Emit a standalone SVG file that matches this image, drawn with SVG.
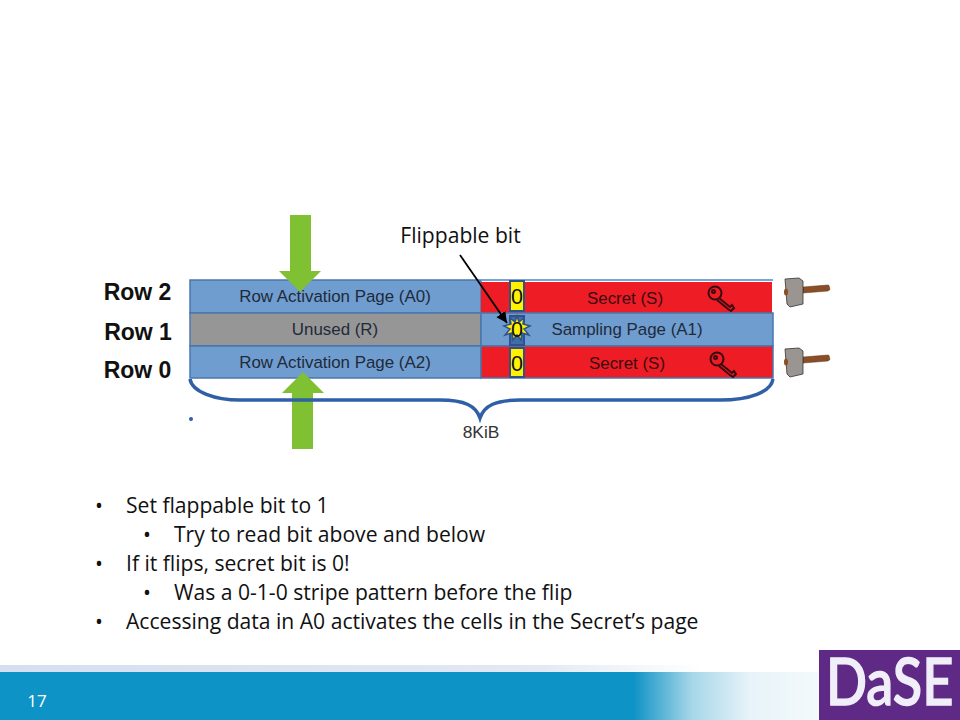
<svg xmlns="http://www.w3.org/2000/svg" width="960" height="720" viewBox="0 0 960 720">
<defs>
<linearGradient id="bar" x1="0" x2="1" y1="0" y2="0"><stop offset="0" stop-color="#0e93c6"/><stop offset="0.66" stop-color="#0e93c6"/><stop offset="0.72" stop-color="#a5d6e8"/><stop offset="0.78" stop-color="#e6f3f8"/><stop offset="0.86" stop-color="#f6fbfc"/><stop offset="1" stop-color="#ffffff"/></linearGradient>
<linearGradient id="top" x1="0" x2="1" y1="0" y2="0"><stop offset="0" stop-color="#d5dff0"/><stop offset="0.65" stop-color="#e2e8f4"/><stop offset="0.86" stop-color="#ffffff"/></linearGradient>
<marker id="ah" markerWidth="7" markerHeight="7" refX="6" refY="3" orient="auto"><path d="M0 0L6 3L0 6z" fill="#000"/></marker>
<g id="hammer">
<path d="M-1 9L24 7L25 7.500L26 11.500L24 13L-1 15z" fill="#8a4f26" stroke="#5a3318" stroke-width="0.500"/>
<path d="M-19 1L-5 0L-1 3L-1 26L-14 29L-17 26z" fill="#9b9591" stroke="#333" stroke-width="0.800"/>
<ellipse cx="-18" cy="14" rx="2" ry="3.500" fill="#8a4f26"/>
</g>
<g id="key" fill="none" stroke="#3a0a10" stroke-width="2">
<circle cx="0" cy="0" r="6.500"/><circle cx="-1.500" cy="-1.500" r="1.500"/>
<path d="M4 5L15 14L17 12L19 15L16 18L13 16L2 7"/>
</g>
</defs>
<style>
.l{font-family:"Liberation Sans",Arial,sans-serif;font-size:16.900px;fill:#1f2a3a;text-anchor:middle}
.r{font-family:"Liberation Sans",Arial,sans-serif;font-size:23px;font-weight:700;fill:#111;text-anchor:middle}
.o{font-family:"Open Sans",sans-serif;font-size:21.100px;fill:#111}
.z{font-family:"Liberation Sans",Arial,sans-serif;font-size:21.500px;fill:#111;text-anchor:middle}
.cell{stroke:#4a77ad;stroke-width:1.500}
.bit{fill:#fff200;stroke:#2f528f;stroke-width:2}
.g{fill:#7fc133}
</style>
<rect width="960" height="720" fill="#fff"/>
<rect x="0" y="665" width="820" height="7" fill="url(#top)"/>
<rect x="0" y="672" width="960" height="48" fill="url(#bar)"/>
<text x="37" y="707" font-family="Open Sans,sans-serif" font-size="17" fill="#fff" text-anchor="middle">17</text>
<g id="logo">
<rect x="819" y="650" width="141" height="70" fill="#5f2a86"/>
<text transform="translate(826 705) scale(1 1.210)" x="0" y="0" font-family="Lato,sans-serif" font-size="54" font-weight="500" stroke="#f0eef8" stroke-width="1.300" fill="#f0eef8">DaSE</text>
</g>
<g id="row2">
<rect class="cell" x="190" y="280" width="291" height="33" fill="#6f9dd0"/>
<rect x="481" y="282" width="291" height="31" fill="#ee1c25"/>
<path d="M481 280H773" stroke="#7ba4d4" stroke-width="2"/>
<text class="l" x="335" y="302">Row Activation Page (A0)</text>
<text class="l" x="625" y="304" style="fill:#3a0a10">Secret (S)</text>
<use href="#key" x="715" y="293"/>
</g>
<g id="row1">
<rect class="cell" x="190" y="313" width="291" height="33" fill="#969696"/>
<rect class="cell" x="481" y="313" width="292" height="33" fill="#6f9dd0"/>
<text class="l" x="335" y="335">Unused (R)</text>
<text class="l" x="627" y="335">Sampling Page (A1)</text>
</g>
<g id="row0">
<rect class="cell" x="190" y="346" width="291" height="32" fill="#6f9dd0"/>
<rect class="cell" x="481" y="346" width="292" height="32" fill="#ee1c25"/>
<text class="l" x="335" y="368">Row Activation Page (A2)</text>
<text class="l" x="627" y="369" style="fill:#3a0a10">Secret (S)</text>
<use href="#key" x="717" y="359"/>
</g>
<g id="bits">
<rect class="bit" x="510" y="281" width="14" height="30"/>
<rect class="bit" x="510" y="316" width="14" height="29" style="fill:#3f6da8"/>
<rect class="bit" x="510" y="348" width="14" height="29"/>
<path d="M517 316L519 322L524 318L523 324L530 326L524 329L529 335L522 333L521 340L517 335L513 340L512 333L505 335L510 329L504 326L511 324L510 318L515 322z" fill="#fff200" stroke="#2f528f" stroke-width="1.500"/>
<text class="z" x="517" y="304">0</text>
<text class="z" x="517" y="337">0</text>
<text class="z" x="517" y="371">0</text>
</g>
<g id="labels">
<text class="r" x="137.500" y="300">Row 2</text>
<text class="r" x="138" y="340">Row 1</text>
<text class="r" x="137.500" y="378">Row 0</text>
</g>
<g id="arrows">
<path class="g" d="M290 215H311V271H321L300 292L279 271H290z"/>
<path class="g" d="M292 449H313V393H324L303 372L282 393H292z"/>
</g>
<g id="brace">
<path d="M190 379C192 392 215 400 240 400H440C465 400 476 406 480 418C484 406 495 400 520 400H720C750 400 771 392 773 379" fill="none" stroke="#2f5fa5" stroke-width="3.500"/>
<circle cx="191" cy="419" r="2" fill="#2f5fa5"/>
<text x="481" y="438" font-family="Liberation Sans,sans-serif" font-size="17.400" fill="#333" text-anchor="middle">8KiB</text>
</g>
<g id="connectors">
<path d="M460 255L507 323" stroke="#000" stroke-width="1.800" fill="none" marker-end="url(#ah)"/>
</g>
<text x="460.500" y="243" font-family="Open Sans,sans-serif" font-size="21.100" fill="#111" text-anchor="middle">Flippable bit</text>
<use href="#hammer" x="804" y="278"/>
<use href="#hammer" x="804" y="348"/>
<g id="bullets">
<text class="o" x="95" y="513">•</text><text class="o" x="126" y="513">Set flappable bit to 1</text>
<text class="o" x="143" y="542">•</text><text class="o" x="174" y="542">Try to read bit above and below</text>
<text class="o" x="95" y="571">•</text><text class="o" x="126" y="571">If it flips, secret bit is 0!</text>
<text class="o" x="143" y="600">•</text><text class="o" x="174" y="600">Was a 0-1-0 stripe pattern before the flip</text>
<text class="o" x="95" y="629">•</text><text class="o" x="126" y="629">Accessing data in A0 activates the cells in the Secret’s page</text>
</g>
</svg>
